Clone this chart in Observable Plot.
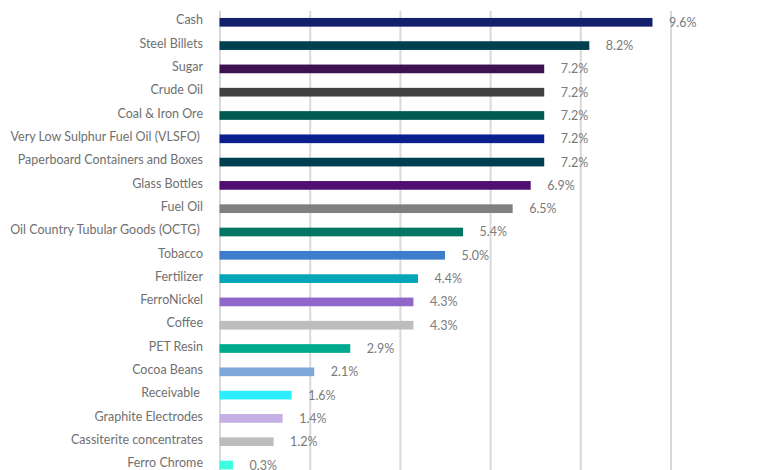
<!DOCTYPE html>
<html>
<head>
<meta charset="utf-8">
<script src="https://cdn.jsdelivr.net/npm/d3@7"></script>
<script src="https://cdn.jsdelivr.net/npm/@observablehq/plot@0.6"></script>
<style>
  html, body { margin: 0; padding: 0; background: #fff; }
  #chart svg { display: block; overflow: hidden; }
  #chart svg text { white-space: pre; }
</style>
</head>
<body>
<div id="chart"></div>
<script>
const categories = [
  "Cash",
  "Steel Billets",
  "Sugar",
  "Crude Oil",
  "Coal & Iron Ore",
  "Very Low Sulphur Fuel Oil (VLSFO) ",
  "Paperboard Containers and Boxes",
  "Glass Bottles",
  "Fuel Oil",
  "Oil Country Tubular Goods (OCTG) ",
  "Tobacco",
  "Fertilizer",
  "FerroNickel",
  "Coffee",
  "PET Resin",
  "Cocoa Beans",
  "Receivable ",
  "Graphite Electrodes",
  "Cassiterite concentrates",
  "Ferro Chrome"
];
const values = [9.6, 8.2, 7.2, 7.2, 7.2, 7.2, 7.2, 6.9, 6.5, 5.4, 5.0, 4.4, 4.3, 4.3, 2.9, 2.1, 1.6, 1.4, 1.2, 0.3];
const palette = [
  "#13206b", "#003f50", "#3e1152", "#404040", "#005a4f", "#0b1f8f", "#003f50",
  "#520f72", "#808083", "#007663", "#3e7dcb", "#00a6b6", "#8f66c9", "#bdbdbe",
  "#00aa8f", "#7ea7da", "#2deeff", "#c5afe3", "#bdbdbe", "#3dffdf"
];
const gridTicks = [0, 2, 4, 6, 8, 10, 12];

const data = categories.map((c, i) => ({ category: c, value: values[i] }));

const chart = Plot.plot({
  width: 757,
  height: 470,
  marginLeft: 219.5,
  marginRight: 0,
  marginTop: 11,
  marginBottom: 0,
  style: { fontFamily: "Lato, sans-serif", fontSize: "12.5px", background: "#fff" },
  x: { domain: [0, 12], range: [219.5, 760.7], axis: null },
  y: { domain: categories, range: [11, 476.3], round: false, axis: null, paddingInner: 0.627, paddingOuter: 0.298 },
  color: { domain: categories, range: palette },
  marks: [
    Plot.ruleX(gridTicks, { stroke: "#d9d9d9", strokeWidth: 2 }),
    Plot.barX(data, { x: "value", y: "category", fill: "category" }),
    Plot.text(data, {
      x: 0, y: "category", text: "category",
      textAnchor: "end", dx: -17, dy: -2.3, fill: "#707070", fontSize: 12.5
    }),
    Plot.text(data, {
      x: "value", y: "category", text: d => d.value.toFixed(1) + "%",
      textAnchor: "start", dx: 16, dy: 0, fill: "#7a7a7a", fontSize: 12.5
    })
  ]
});
document.getElementById("chart").appendChild(chart);
</script>
</body>
</html>
